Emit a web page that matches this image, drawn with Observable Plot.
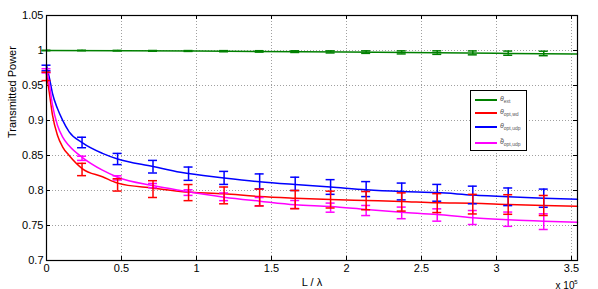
<!DOCTYPE html>
<html>
<head>
<meta charset="utf-8">
<script src="https://cdn.jsdelivr.net/npm/d3@7"></script>
<script src="https://cdn.jsdelivr.net/npm/@observablehq/plot@0.6"></script>
<style>
  html, body { margin: 0; padding: 0; background: #fff; }
  #wrap { position: relative; width: 598px; height: 289px; font-family: "Liberation Sans", Arial, sans-serif; }
  #legend { position: absolute; left: 470px; top: 90px; width: 57px; height: 61px; border: 1.5px solid #000; background: #fff; box-sizing: border-box; }
  .item { position: absolute; left: 4px; height: 2px; }
  .item .ln { position: absolute; left: 0; top: 0; width: 22px; height: 2px; }
  .item .tx { position: absolute; left: 25px; top: -5px; font-size: 7px; color: #555; font-style: italic; white-space: nowrap; line-height: 9px; }
  .item .tx sub { font-size: 5px; font-style: normal; }
</style>
</head>
<body>
<div id="wrap"></div>
<script>
// ---- data (x in units of 1e5) ----
const xTicks = [0, 0.5, 1, 1.5, 2, 2.5, 3, 3.5];
const yTicks = [0.7, 0.75, 0.8, 0.85, 0.9, 0.95, 1, 1.05];

const pointX = [0, 0.237, 0.474, 0.71, 0.947, 1.184, 1.421, 1.658, 1.894, 2.131, 2.368, 2.605, 2.842, 3.078, 3.315];

const greenMean = [1.0, 1.0, 0.9998, 0.9995, 0.9993, 0.999, 0.9987, 0.9984, 0.998, 0.9977, 0.9973, 0.997, 0.9966, 0.9962, 0.9958];
const greenErr  = [0.0003, 0.0003, 0.0004, 0.0005, 0.0006, 0.0008, 0.001, 0.0012, 0.0015, 0.0018, 0.0022, 0.0025, 0.0028, 0.003, 0.0032];

const redMean = [0.963, 0.830, 0.808, 0.802, 0.797, 0.793, 0.790, 0.787, 0.787, 0.7855, 0.7836, 0.782, 0.7805, 0.780, 0.7786];
const redErr  = [0.006, 0.0088, 0.0088, 0.012, 0.0115, 0.012, 0.012, 0.013, 0.012, 0.013, 0.013, 0.0135, 0.014, 0.014, 0.0143];

const blueMean = [0.975, 0.8686, 0.845, 0.834, 0.824, 0.818, 0.813, 0.8095, 0.805, 0.802, 0.7986, 0.7967, 0.7936, 0.791, 0.789];
const blueErr  = [0.004, 0.0075, 0.008, 0.009, 0.0095, 0.0093, 0.0107, 0.0095, 0.0105, 0.0107, 0.012, 0.012, 0.0126, 0.0126, 0.013];

const magMean = [0.971, 0.846, 0.818, 0.807, 0.797, 0.791, 0.784, 0.780, 0.7755, 0.7714, 0.768, 0.765, 0.7614, 0.759, 0.7555];
const magErr  = [0.003, 0.003, 0.003, 0.003, 0.004, 0.0055, 0.006, 0.0057, 0.0065, 0.0072, 0.0083, 0.0088, 0.010, 0.0102, 0.0112];

const curveX = [0, 0.018, 0.04, 0.073, 0.107, 0.151, 0.24, 0.373, 0.474, 0.71, 0.893, 1.184, 1.421, 1.658, 1.894, 2.131, 2.368, 2.605, 2.842, 3.078, 3.315, 3.54];
const blueCurve = [0.978, 0.9624, 0.9386, 0.917, 0.9005, 0.8838, 0.868, 0.853, 0.845, 0.8343, 0.826, 0.818, 0.8125, 0.8085, 0.805, 0.801, 0.7985, 0.797, 0.7935, 0.791, 0.789, 0.7876];
const magCurve  = [0.974, 0.953, 0.922, 0.8933, 0.8767, 0.8638, 0.847, 0.829, 0.819, 0.807, 0.800, 0.7905, 0.7848, 0.7795, 0.7771, 0.7729, 0.769, 0.7657, 0.761, 0.7581, 0.7562, 0.7545];
const redCurve  = [0.967, 0.941, 0.9076, 0.879, 0.8624, 0.850, 0.831, 0.8196, 0.8105, 0.8033, 0.7986, 0.7952, 0.7914, 0.789, 0.7871, 0.7857, 0.7843, 0.7824, 0.7819, 0.780, 0.7786, 0.7776];
const greenCurveX = [0, 1, 2, 3, 3.54];
const greenCurve  = [1.0, 0.9992, 0.9978, 0.996, 0.995];

const colors = { green: "#008000", red: "#ff0000", blue: "#0000ff", mag: "#ff00ff" };

// ---- build tables ----
const bars = (mean, err) => pointX.map((x, i) => ({ x, lo: mean[i] - err[i], hi: mean[i] + err[i] }));
const curve = (xsArr, ys) => xsArr.map((x, i) => ({ x, y: ys[i] }));

const W = 598, H = 289, mL = 46, mT = 15, mR = 21, mB = 29;
const pw = W - mL - mR, ph = H - mT - mB;

function errMarks(data, color, capW) {
  return [
    Plot.ruleX(data, { x: "x", y1: "lo", y2: "hi", stroke: color, strokeWidth: 1.5 }),
    Plot.ruleY(data, { x1: "x", x2: "x", y: "lo", stroke: color, strokeWidth: 1.5, insetLeft: -capW, insetRight: -capW }),
    Plot.ruleY(data, { x1: "x", x2: "x", y: "hi", stroke: color, strokeWidth: 1.5, insetLeft: -capW, insetRight: -capW })
  ];
}

const chart = Plot.plot({
  width: W, height: H,
  marginLeft: mL, marginTop: mT, marginRight: mR, marginBottom: mB,
  style: { fontFamily: "'Liberation Sans', Arial, sans-serif", fontSize: "11px", background: "#fff", color: "#000", overflow: "visible" },
  x: { domain: [0, 3.54] },
  y: { domain: [0.7, 1.05] },
  marks: [
    Plot.gridX(xTicks.slice(1), { stroke: "#888", strokeOpacity: 1, strokeDasharray: "1,2", strokeWidth: 0.8 }),
    Plot.gridY(yTicks.slice(1, -1), { stroke: "#888", strokeOpacity: 1, strokeDasharray: "1,2", strokeWidth: 0.8 }),
    Plot.axisX(xTicks, { tickSize: 0, tickPadding: 4, label: null, tickFormat: d => String(d), fontSize: 11 }),
    Plot.axisY(yTicks, { tickSize: 0, tickPadding: 3, label: null, tickFormat: d => String(+d.toFixed(2)), fontSize: 11 }),
    // inward ticks on all four sides
    Plot.tickX(xTicks, { x: d => d, stroke: "#000", insetTop: ph - 4 }),
    Plot.tickX(xTicks, { x: d => d, stroke: "#000", insetBottom: ph - 4 }),
    Plot.tickY(yTicks, { y: d => d, stroke: "#000", insetRight: pw - 4 }),
    Plot.tickY(yTicks, { y: d => d, stroke: "#000", insetLeft: pw - 4 }),
    // curves
    Plot.line(curve(greenCurveX, greenCurve), { x: "x", y: "y", stroke: colors.green, strokeWidth: 1.5 }),
    Plot.line(curve(curveX, redCurve), { x: "x", y: "y", stroke: colors.red, strokeWidth: 1.5, curve: "monotone-x" }),
    Plot.line(curve(curveX, blueCurve), { x: "x", y: "y", stroke: colors.blue, strokeWidth: 1.5, curve: "monotone-x" }),
    Plot.line(curve(curveX, magCurve), { x: "x", y: "y", stroke: colors.mag, strokeWidth: 1.5, curve: "monotone-x" }),
    // error bars
    ...errMarks(bars(greenMean, greenErr), colors.green, 4.5),
    ...errMarks(bars(magMean, magErr), colors.mag, 4.5),
    ...errMarks(bars(blueMean, blueErr), colors.blue, 4.5),
    ...errMarks(bars(redMean, redErr), colors.red, 4.5),
    Plot.frame({ stroke: "#000", strokeWidth: 1.2 }),
    // axis titles
    Plot.text(["L / λ"], { frameAnchor: "bottom", dy: 25, fontSize: 11, fill: "#000" }),
    Plot.text(["x 10"], { frameAnchor: "bottom-right", dx: -3, dy: 28, textAnchor: "end", fontSize: 10, fill: "#000" }),
    Plot.text(["5"], { frameAnchor: "bottom-right", dx: 0, dy: 23, textAnchor: "end", fontSize: 6, fill: "#000" }),
    Plot.text(["Transmitted Power"], { frameAnchor: "left", dx: -34, rotate: -90, fontSize: 11, fill: "#000" })
  ]
});

const wrap = document.getElementById("wrap");
wrap.appendChild(chart);

// legend
const legend = document.createElement("div");
legend.id = "legend";
const legendItems = [
  { c: colors.green, t: "θ", s: "ext", top: 8 },
  { c: colors.red, t: "θ", s: "opt,wd", top: 21 },
  { c: colors.blue, t: "θ", s: "opt,udp", top: 35 },
  { c: colors.mag, t: "θ̃", s: "opt,udp", top: 51 }
];
legendItems.forEach(it => {
  const d = document.createElement("div");
  d.className = "item";
  d.style.top = it.top + "px";
  d.innerHTML = `<div class="ln" style="background:${it.c}"></div><div class="tx">${it.t}<sub>${it.s}</sub></div>`;
  legend.appendChild(d);
});
wrap.appendChild(legend);
</script>
</body>
</html>
